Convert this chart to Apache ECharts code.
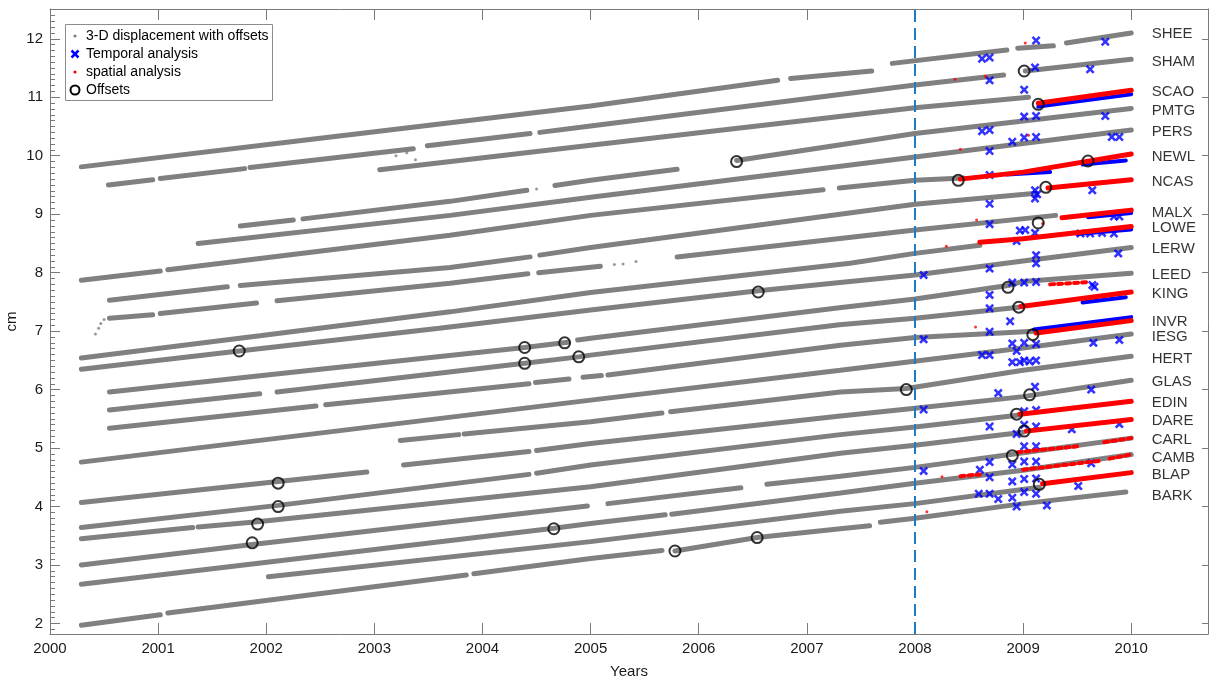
<!DOCTYPE html>
<html>
<head>
<meta charset="utf-8">
<title>3-D displacement time series</title>
<script src="https://cdn.jsdelivr.net/npm/echarts@6/dist/echarts.min.js"></script>
<style>
  html, body { margin: 0; padding: 0; background: #fff; }
  #main { width: 1210px; height: 681px; }
</style>
</head>
<body>
<div id="main"></div>
<script>
// gray tracks: one array per station, each is a list of segments [[year, cm], ...]
const SHEE = [
  [[2000.29,9.81],[2002.5,10.30],[2005,10.85],[2006.73,11.29]],
  [[2006.85,11.32],[2007.6,11.45]],
  [[2007.79,11.58],[2008.85,11.81]],
  [[2008.95,11.84],[2009.28,11.88]],
  [[2009.4,11.93],[2010,12.10]]
];
const SHAM = [
  [[2000.54,9.50],[2000.95,9.59]],
  [[2001.02,9.61],[2001.8,9.78]],
  [[2001.85,9.80],[2003.36,10.12]],
  [[2003.49,10.17],[2004.44,10.38]],
  [[2004.53,10.40],[2005,10.51],[2008,11.21],[2008.82,11.38]],
  [[2009.02,11.45],[2010,11.65]]
];
const SCAO = [
  [[2003.05,9.76],[2005,10.18],[2008,10.82],[2009.05,11.0]]
];
const PMTG = [
  [[2001.76,8.80],[2002.25,8.90]],
  [[2002.34,8.92],[2003.7,9.22],[2004.41,9.41]],
  [[2004.67,9.49],[2005,9.58],[2005.8,9.77]],
  [[2006.35,9.92],[2008,10.38],[2010,10.81]]
];
const PERS = [
  [[2001.37,8.50],[2003.7,8.98],[2005,9.29],[2008,9.98],[2010,10.44]]
];
const NEWL = [
  [[2000.29,7.87],[2001.02,8.03]],
  [[2001.09,8.05],[2003.7,8.64],[2005,8.98],[2007.15,9.42]],
  [[2007.3,9.45],[2008,9.58],[2008.45,9.62]]
];
const NCAS = [
  [[2000.55,7.53],[2001.64,7.76]],
  [[2001.76,7.78],[2003.7,8.09],[2004.44,8.27]],
  [[2004.53,8.30],[2005,8.43],[2008,9.17],[2009.12,9.36]]
];
const MALX = [
  [[2000.55,7.22],[2000.95,7.28]],
  [[2001.02,7.30],[2001.91,7.48]],
  [[2002.1,7.52],[2003.7,7.82],[2004.42,7.98]],
  [[2004.52,8.0],[2005.09,8.11]],
  [[2005.8,8.27],[2008,8.73],[2009.3,8.98]]
];
const LOWE = [
  [[2000.29,6.54],[2001.94,6.92],[2003.7,7.33],[2005,7.66],[2007.4,8.16],[2008,8.33],[2008.6,8.47]]
];
const LERW = [
  [[2000.29,6.35],[2001.75,6.66],[2003.6,7.05],[2005,7.36],[2006.55,7.69],[2007.4,7.85],[2008,7.96],[2009,8.2],[2010,8.43]]
];
const LEED = [
  [[2000.55,5.96],[2002.5,6.35],[2004.39,6.72],[2004.79,6.81]],
  [[2004.88,6.85],[2005,6.88],[2007.3,7.40],[2008,7.55],[2008.86,7.78],[2009,7.85],[2010,7.99]]
];
const KING = [
  [[2000.55,5.65],[2001.94,5.93]],
  [[2002.1,5.96],[2004.39,6.45],[2004.89,6.56],[2005,6.59],[2007.3,7.11],[2008,7.22],[2008.96,7.41]]
];
const INVR = [
  [[2000.55,5.34],[2002.46,5.72]],
  [[2002.55,5.74],[2004.43,6.10]],
  [[2004.49,6.12],[2004.8,6.18]],
  [[2004.93,6.21],[2005.1,6.24]],
  [[2005.16,6.25],[2007.31,6.76],[2008,6.89],[2009.1,7.0]]
];
const IESG = [
  [[2000.29,4.76],[2005,5.82],[2007.31,6.33],[2009,6.71],[2010,6.95]]
];
const HERT = [
  [[2003.24,5.13],[2003.78,5.23]],
  [[2003.83,5.24],[2005,5.45],[2005.66,5.60]],
  [[2005.74,5.62],[2007.31,5.96],[2007.92,6.02],[2009,6.33],[2010,6.57]]
];
const GLAS = [
  [[2000.29,4.07],[2002.11,4.43],[2002.93,4.59]],
  [[2003.27,4.71],[2004.43,4.94]],
  [[2004.5,4.96],[2005,5.08],[2007.31,5.55],[2008,5.68],[2009,5.88],[2010,6.16]]
];
const EDIN = [
  [[2000.29,3.64],[2002.11,4.02],[2004.43,4.55]],
  [[2004.5,4.57],[2005,4.71],[2007.31,5.23],[2008,5.36],[2008.95,5.56]]
];
const DARE = [
  [[2000.29,3.45],[2001.32,3.64]],
  [[2001.37,3.65],[2001.92,3.74],[2005,4.34],[2007.31,4.91],[2008,5.05],[2009.0,5.27]]
];
const CARL = [
  [[2000.29,3.0],[2001.87,3.35],[2004.97,4.01]],
  [[2005.16,4.05],[2006.39,4.32]],
  [[2006.63,4.38],[2007.31,4.52],[2008,4.67],[2009,4.92],[2010,5.17]]
];
const CAMB = [
  [[2000.29,2.67],[2004.66,3.63],[2005,3.71],[2005.69,3.86]],
  [[2005.75,3.87],[2007.31,4.23],[2008,4.40],[2009,4.62],[2010,4.89]]
];
const BLAP = [
  [[2002.02,2.80],[2005,3.40],[2007.31,3.92],[2008,4.05],[2009.15,4.33]]
];
const BARK = [
  [[2000.29,1.97],[2001.02,2.15]],
  [[2001.09,2.18],[2003.85,2.83]],
  [[2003.92,2.85],[2005,3.11],[2005.66,3.25]],
  [[2005.78,3.24],[2006.54,3.47],[2007.31,3.62],[2007.58,3.67]],
  [[2007.68,3.73],[2008,3.8],[2009,4.05],[2009.95,4.25]]
];
// loose gray points off the tracks
const grayDots = [
  [2000.42,6.95],[2000.45,7.05],[2000.47,7.13],[2000.5,7.2],
  [2005.22,8.14],[2005.3,8.15],[2005.42,8.19],[2004.5,9.43],
  [2003.2,10.0],[2003.3,10.05],[2003.38,9.93]
];

// spatial analysis (red)
const redBands = [
  [[2009.14,10.90],[2010,11.12]],
  [[2008.42,9.60],[2009.0,9.72],[2010,10.03]],
  [[2009.23,9.45],[2010,9.59]],
  [[2009.36,8.94],[2010,9.07]],
  [[2008.6,8.52],[2009.0,8.58],[2010,8.79]],
  [[2008.98,7.42],[2010,7.67]],
  [[2009.12,6.97],[2010,7.18]],
  [[2008.97,5.58],[2010,5.80]],
  [[2009.03,5.29],[2010,5.49]],
  [[2009.18,4.39],[2010,4.58]]
];
const redSparse = [
  [[2009.25,7.80],[2009.6,7.84]],
  [[2008.95,4.93],[2009.5,5.03]],
  [[2009.75,5.10],[2010,5.17]],
  [[2008.42,4.52],[2008.6,4.55]],
  [[2009.0,4.63],[2009.7,4.78]],
  [[2009.8,4.82],[2010,4.89]]
];
const redDots = [
  [2009.02,11.93],[2008.37,11.31],[2008.65,11.36],[2008.42,10.11],[2008.57,8.9],
  [2008.29,8.45],[2008.56,7.07],[2008.11,3.91],[2008.25,4.51],[2009.18,8.84],[2009.05,10.35]
];

// temporal analysis (blue)
const blueBands = [
  [[2009.14,10.84],[2010,11.05]],
  [[2008.85,9.68],[2009.25,9.72]],
  [[2009.55,9.85],[2009.95,9.92]],
  [[2009.6,8.95],[2010,9.02]],
  [[2009.5,8.66],[2010,8.74]],
  [[2009.55,7.49],[2009.95,7.58]],
  [[2009.1,7.03],[2010,7.24]]
];
const blueCrosses = [
  [2009.12,11.97],[2009.76,11.95],[2008.62,11.66],[2008.69,11.68],[2009.11,11.51],[2009.62,11.48],[2008.69,11.29],
  [2009.01,11.13],[2009.01,10.67],[2009.12,10.68],[2009.76,10.68],
  [2008.62,10.42],[2008.69,10.44],[2008.9,10.24],[2009.01,10.31],[2009.12,10.32],[2009.82,10.32],[2009.89,10.32],
  [2008.69,10.08],[2008.69,9.67],
  [2009.11,9.41],[2009.11,9.27],[2009.13,9.34],[2008.69,9.18],[2009.64,9.41],
  [2008.69,8.83],[2008.97,8.72],[2009.02,8.73],[2008.94,8.54],[2009.11,8.68],
  [2009.53,8.67],[2009.62,8.67],[2009.73,8.68],[2009.84,8.67],[2009.84,8.96],[2009.89,8.96],
  [2009.12,8.30],[2009.12,8.16],[2009.88,8.33],[2008.69,8.07],
  [2008.08,7.96],[2008.9,7.83],[2009.01,7.83],[2009.12,7.84],[2009.64,7.79],[2009.66,7.76],[2008.69,7.62],
  [2008.69,7.39],[2008.88,7.17],
  [2008.08,6.86],[2008.69,6.99],[2008.9,6.79],[2008.94,6.66],[2009.01,6.80],[2009.12,6.78],[2009.65,6.80],[2009.89,6.85],
  [2008.62,6.59],[2008.69,6.59],
  [2008.9,6.47],[2008.97,6.47],[2009.01,6.5],[2009.06,6.48],[2009.12,6.5],
  [2009.11,6.05],[2008.77,5.94],[2009.63,6.0],
  [2008.08,5.66],[2009.01,5.63],[2009.12,5.65],
  [2008.69,5.37],[2009.01,5.40],[2009.12,5.37],[2008.94,5.24],[2009.45,5.32],[2009.89,5.41],
  [2009.01,5.03],[2009.12,5.03],
  [2008.08,4.61],[2008.69,4.76],[2008.6,4.63],[2008.69,4.5],[2008.9,4.72],[2009.01,4.77],[2009.12,4.77],[2009.63,4.74],
  [2008.9,4.43],[2009.01,4.47],[2009.12,4.48],[2009.51,4.35],
  [2008.59,4.22],[2008.69,4.22],[2008.77,4.13],[2008.9,4.15],[2008.94,4.0],[2009.01,4.25],[2009.12,4.22],[2009.22,4.02]
];

// offsets (black circles)
const offsetCircles = [
  [2001.75,6.66],[2002.11,4.40],[2002.11,4.0],[2001.92,3.70],[2001.87,3.38],
  [2004.39,6.72],[2004.39,6.45],[2004.76,6.80],[2004.89,6.56],[2004.66,3.62],
  [2006.35,9.90],[2006.55,7.67],[2005.78,3.24],[2006.54,3.47],
  [2009.01,11.45],[2009.14,10.88],[2008.40,9.58],[2009.21,9.46],[2009.60,9.91],[2009.14,8.85],
  [2008.86,7.75],[2008.96,7.41],[2009.09,6.94],[2007.92,6.0],[2009.06,5.91],
  [2008.94,5.58],[2009.01,5.29],[2008.90,4.87],[2009.15,4.38]
];

const stationNames = ['SHEE','SHAM','SCAO','PMTG','PERS','NEWL','NCAS','MALX','LOWE','LERW','LEED',
  'KING','INVR','IESG','HERT','GLAS','EDIN','DARE','CARL','CAMB','BLAP','BARK'];
const stationLabelY = [12.08,11.61,11.09,10.76,10.41,9.98,9.55,9.03,8.77,8.41,7.96,
  7.63,7.16,6.90,6.53,6.14,5.77,5.47,5.14,4.84,4.55,4.19];

const xTicks = [2000,2001,2002,2003,2004,2005,2006,2007,2008,2009,2010];
const yTicks = [2,3,4,5,6,7,8,9,10,11,12];
const yMinor = [];
for (let k = 19; k <= 125; k++) { if (k % 10 !== 0) yMinor.push(k / 10); }

const X_MIN = 2000, X_MAX = 2010.71, Y_MIN = 1.82, Y_MAX = 12.51;
const FONT = "'Liberation Sans', Arial, Helvetica, sans-serif";
const AXIS_COLOR = '#7a7a7a';
const TEXT_COLOR = '#1a1a1a';

const grayTracks = [SHEE, SHAM, SCAO, PMTG, PERS, NEWL, NCAS, MALX, LOWE, LERW, LEED,
  KING, INVR, IESG, HERT, GLAS, EDIN, DARE, CARL, CAMB, BLAP, BARK];

const crossPath = 'path://M0,2L2,0L5,3L8,0L10,2L7,5L10,8L8,10L5,7L2,10L0,8L3,5Z';

function segSeries(seg, color, width, z, type) {
  return {
    type: 'line', data: seg, symbol: 'none', showSymbol: false, silent: true, z: z,
    lineStyle: { color: color, width: width, type: type || 'solid', cap: 'round' }
  };
}

const series = [];
grayTracks.forEach(track => track.forEach(seg => series.push(segSeries(seg, '#808080', 5, 1))));
series[0].markLine = {
  silent: true, symbol: ['none', 'none'], label: { show: false },
  lineStyle: { color: '#1f7cc4', width: 2, type: [12, 6] },
  data: [{ xAxis: 2008 }]
};
series.push({
  type: 'scatter', data: grayDots, symbol: 'circle', symbolSize: 3, silent: true, z: 1,
  itemStyle: { color: '#808080' }
});
blueBands.forEach(seg => series.push(segSeries(seg, '#0000ff', 4, 2)));
series.push({
  type: 'scatter', data: blueCrosses, symbol: crossPath, symbolSize: 9, silent: true, z: 3,
  itemStyle: { color: '#0000ff' }
});
redBands.forEach(seg => series.push(segSeries(seg, '#ff0000', 5, 4)));
redSparse.forEach(seg => series.push(segSeries(seg, '#ff0000', 4, 4, [4, 4])));
series.push({
  type: 'scatter', data: redDots, symbol: 'circle', symbolSize: 3, silent: true, z: 4,
  itemStyle: { color: '#ff0000' }
});
series.push({
  type: 'scatter', data: offsetCircles, symbol: 'circle', symbolSize: 11, silent: true, z: 5,
  itemStyle: { color: 'rgba(0,0,0,0)', borderColor: '#000', borderWidth: 2 }
});
series.push({
  type: 'scatter', symbolSize: 0, silent: true, z: 5,
  data: stationNames.map((n, i) => ({ name: n, value: [2010.19, stationLabelY[i]] })),
  label: {
    show: true, position: 'right', distance: 0, formatter: p => p.name,
    color: '#000', fontSize: 15, fontFamily: FONT, align: 'left', verticalAlign: 'middle'
  }
});

const chart = echarts.init(document.getElementById('main'));
chart.setOption({
  animation: false,
  backgroundColor: '#fff',
  grid: { left: 50, right: 2, top: 9, bottom: 47, containLabel: false, outerBoundsMode: 'none' },
  xAxis: [
    {
      type: 'value', min: X_MIN, max: X_MAX, position: 'bottom',
      name: 'Years', nameLocation: 'middle', nameGap: 30, nameMoveOverlap: false,
      nameTextStyle: { color: TEXT_COLOR, fontSize: 15, fontFamily: FONT },
      axisLine: { show: true, lineStyle: { color: AXIS_COLOR } },
      axisTick: { show: true, inside: true, length: 11, customValues: xTicks, lineStyle: { color: AXIS_COLOR } },
      axisLabel: { customValues: xTicks, formatter: v => String(v), color: TEXT_COLOR, fontSize: 15, fontFamily: FONT, margin: 7 },
      splitLine: { show: false }
    },
    {
      type: 'value', min: X_MIN, max: X_MAX, position: 'top',
      axisLine: { show: true, lineStyle: { color: AXIS_COLOR } },
      axisTick: { show: true, inside: true, length: 11, customValues: xTicks, lineStyle: { color: AXIS_COLOR } },
      axisLabel: { show: false },
      splitLine: { show: false }
    }
  ],
  yAxis: [
    {
      type: 'value', min: Y_MIN, max: Y_MAX, position: 'left',
      name: 'cm', nameLocation: 'middle', nameGap: 31, nameRotate: 90, nameMoveOverlap: false,
      nameTextStyle: { color: TEXT_COLOR, fontSize: 15, fontFamily: FONT },
      axisLine: { show: true, lineStyle: { color: AXIS_COLOR } },
      axisTick: { show: true, inside: true, length: 10, customValues: yTicks, lineStyle: { color: AXIS_COLOR } },
      axisLabel: { customValues: yTicks, color: TEXT_COLOR, fontSize: 15, fontFamily: FONT, margin: 7 },
      splitLine: { show: false }
    },
    {
      type: 'value', min: Y_MIN, max: Y_MAX, position: 'right',
      axisLine: { show: true, lineStyle: { color: AXIS_COLOR } },
      axisTick: { show: true, inside: true, length: 6, customValues: yTicks, lineStyle: { color: AXIS_COLOR } },
      axisLabel: { show: false },
      splitLine: { show: false }
    },
    {
      type: 'value', min: Y_MIN, max: Y_MAX, position: 'left', offset: 0,
      axisLine: { show: false },
      axisTick: { show: true, inside: true, length: 5, customValues: yMinor, lineStyle: { color: AXIS_COLOR } },
      axisLabel: { show: false },
      splitLine: { show: false }
    }
  ],
  graphic: [
    { type: 'rect', z: 100, shape: { x: 65.5, y: 24.5, width: 207, height: 76 },
      style: { fill: '#fff', stroke: '#8c8c8c', lineWidth: 1 } },
    { type: 'circle', z: 101, shape: { cx: 75, cy: 36, r: 1.6 }, style: { fill: '#808080' } },
    { type: 'line', z: 101, shape: { x1: 71.5, y1: 50.5, x2: 78.5, y2: 57.5 }, style: { stroke: '#0000ff', lineWidth: 2.5 } },
    { type: 'line', z: 101, shape: { x1: 78.5, y1: 50.5, x2: 71.5, y2: 57.5 }, style: { stroke: '#0000ff', lineWidth: 2.5 } },
    { type: 'circle', z: 101, shape: { cx: 75, cy: 72, r: 1.6 }, style: { fill: '#ff0000' } },
    { type: 'circle', z: 101, shape: { cx: 75, cy: 90, r: 4.5 }, style: { fill: 'none', stroke: '#000', lineWidth: 2 } },
    { type: 'text', z: 101, x: 86, y: 36, style: { text: '3-D displacement with offsets', fontSize: 14, fontFamily: FONT, fill: '#000', verticalAlign: 'middle' } },
    { type: 'text', z: 101, x: 86, y: 54, style: { text: 'Temporal analysis', fontSize: 14, fontFamily: FONT, fill: '#000', verticalAlign: 'middle' } },
    { type: 'text', z: 101, x: 86, y: 72, style: { text: 'spatial analysis', fontSize: 14, fontFamily: FONT, fill: '#000', verticalAlign: 'middle' } },
    { type: 'text', z: 101, x: 86, y: 90, style: { text: 'Offsets', fontSize: 14, fontFamily: FONT, fill: '#000', verticalAlign: 'middle' } }
  ],
  series: series
});
</script>
</body>
</html>
